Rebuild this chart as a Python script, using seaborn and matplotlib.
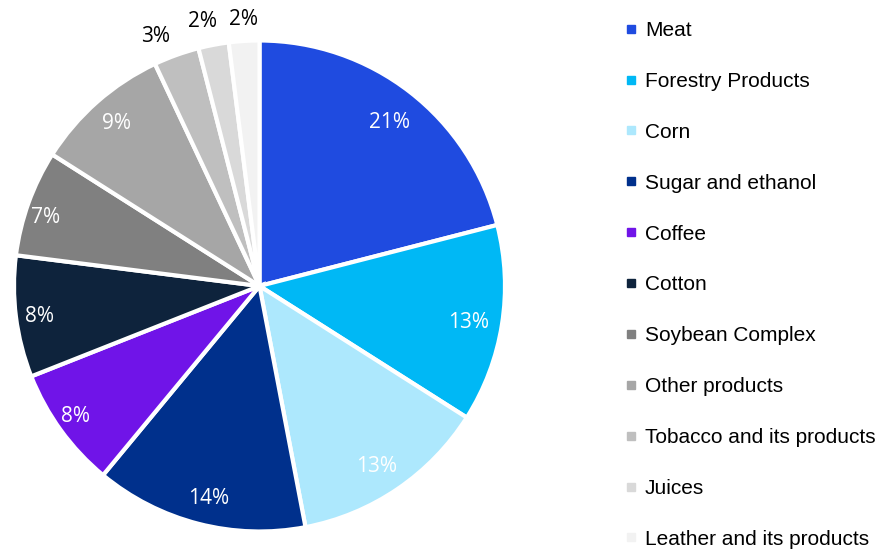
import matplotlib
matplotlib.use("Agg")
import matplotlib.pyplot as plt
import seaborn as sns
import numpy as np
from matplotlib.lines import Line2D

sns.set_theme(style="white")
plt.rcParams["font.family"] = ["Liberation Sans", "DejaVu Sans"]

categories = ["Meat", "Forestry Products", "Corn", "Sugar and ethanol", "Coffee",
              "Cotton", "Soybean Complex", "Other products",
              "Tobacco and its products", "Juices", "Leather and its products"]
shares = [21, 13, 13, 14, 8, 8, 7, 9, 3, 2, 2]

colors = ["#1F4BE0", "#00B8F5", "#ADE8FD", "#00308C", "#7014E8",
          "#0E233C", "#808080", "#A6A6A6", "#BFBFBF", "#D9D9D9", "#F2F2F2"]
# label placement: radius (in pie radii) and angular nudge (degrees) per wedge
label_r = [0.857, 0.865, 0.869, 0.884, 0.914, 0.902, 0.92, 0.885, 1.106, 1.108, 1.094]
label_dang = [-0.5, -0.5, -0.8, 0.9, -0.9, 0.3, 1.5, -0.4, 2.6, 1.2, -0.1]
n_inside = 8

W, H, DPI = 889, 550, 100
fig = plt.figure(figsize=(W / DPI, H / DPI), dpi=DPI)

# pie axes: centre at (259.5, 286) px, radius 245.5 px, limits +-1.25
R = 245.5
cx, cy = 259.5, 286
span = 2.5 * R
ax = fig.add_axes([(cx - span / 2) / W, (H - cy - span / 2) / H, span / W, span / H])

wedges, _ = ax.pie(shares, colors=colors, startangle=90, counterclock=False,
                   wedgeprops=dict(edgecolor="white", linewidth=3))
ax.set_xlim(-1.25, 1.25)
ax.set_ylim(-1.25, 1.25)
ax.set_aspect("equal")
ax.axis("off")

total = sum(shares)
cum = 0
lab_size = 15
for i, val in enumerate(shares):
    mid = cum + val / 2
    cum += val
    ang = np.deg2rad(90 - 360 * mid / total + label_dang[i])
    r = label_r[i]
    inside = i < n_inside
    ax.annotate(f"{val}%", (r * np.cos(ang), r * np.sin(ang)),
                xytext=(0, -0.357 * lab_size), textcoords="offset points",
                ha="center", va="baseline", fontsize=lab_size,
                color="white" if inside else "black",
                family=["Open Sans", "DejaVu Sans"])

handles = [Line2D([], [], marker="s", linestyle="none", markersize=6.3,
                  markerfacecolor=c, markeredgecolor=c) for c in colors]
leg = fig.legend(handles, categories, loc="upper left",
                 bbox_to_anchor=(624 / W, 1 - 21 / H), frameon=False,
                 fontsize=15, handlelength=0.7, handletextpad=0.31,
                 labelspacing=1.53, borderaxespad=0, borderpad=0,
                 labelcolor="black")

fig.savefig("out.png", dpi=DPI)
